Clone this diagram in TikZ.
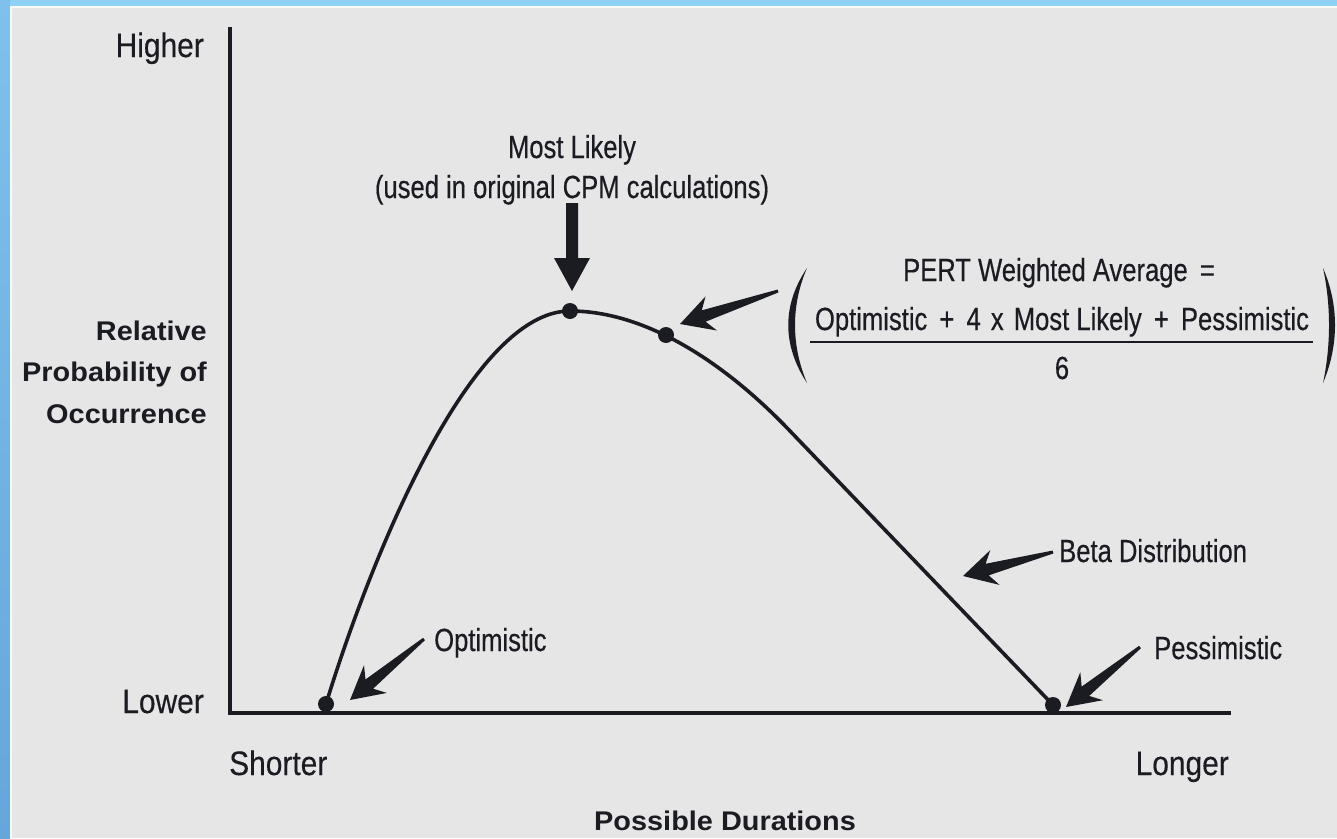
\documentclass[tikz,border=0pt]{standalone}
\usepackage{fontspec}
\setmainfont{Liberation Sans}
\newfontfamily\labelfont[FakeStretch=0.88,FakeBold=0.3]{Liberation Sans}
\newfontfamily\notefont[FakeStretch=0.8,FakeBold=0.4]{Liberation Sans}
\newfontfamily\titlefont[FakeStretch=1.07]{Liberation Sans}
\usetikzlibrary{calc}

\definecolor{panel}{HTML}{E6E6E6}
\definecolor{ink}{HTML}{1B1B22}
\definecolor{skytop}{HTML}{8FD0F5}
\definecolor{skyleft}{HTML}{7FC0EC}
\definecolor{skyleftdark}{HTML}{66A7DB}

% Broad pointer: thin tail widening into a shaft, swept head ending at the tip.
% #1 tail coordinate, #2 tip coordinate, #3 half width of the tail, #4 depth of the notch
\newcommand{\fatarrow}[4]{%
  \coordinate (#1-hb) at ($(#2)!33pt!(#1)$);
  \coordinate (#1-hn) at ($(#2)!#4!(#1)$);
  \fill[ink] ($(#1)!#3!90:(#2)$) -- ($(#1-hn)!6pt!90:(#2)$)
    -- ($(#1-hb)!18pt!90:(#2)$) -- (#2)
    -- ($(#1-hb)!18pt!-90:(#2)$) -- ($(#1-hn)!6pt!-90:(#2)$)
    -- ($(#1)!#3!-90:(#2)$) -- cycle;
}
\newcommand{\gap}{\hspace{5pt}}

\tikzset{
  axisline/.style={line width=4pt, draw=ink},
  curveline/.style={line width=3.6pt, draw=ink},
  dot/.style={circle, fill=ink, inner sep=0pt, minimum size=16pt},
  labeltext/.style={font=\labelfont\fontsize{34}{40}\selectfont, text=ink, inner sep=0pt},
  titletext/.style={font=\titlefont\bfseries\fontsize{27}{41}\selectfont, text=ink, inner sep=0pt},
  notetext/.style={font=\notefont\fontsize{32}{40}\selectfont, text=ink, inner sep=0pt},
}

\begin{document}
\begin{tikzpicture}[x=1pt, y=-1pt]
  \useasboundingbox (0,0) rectangle (1337,838);

  % frame: blue edges and grey panel
  \fill[skytop] (0,0) rectangle (1337,6);
  \shade[top color=skyleft, bottom color=skyleftdark] (0,0) rectangle (10,838);
  \fill[white!85!panel] (10,6) rectangle (1337,838);
  \fill[panel] (12,8) rectangle (1337,838);

  % axes
  \coordinate (ytop) at (230,27);
  \coordinate (corner) at (230,713);
  \coordinate (xend) at (1231,713);
  \draw[axisline] (ytop) -- (corner) -- (xend);

  % points on the distribution
  \node[dot] (opt) at (326,704) {};
  \node[dot] (mode) at (570,311) {};
  \node[dot] (avg) at (666,335) {};
  \node[dot] (pes) at (1053,705) {};

  % beta distribution curve
  \draw[curveline] (opt.center) .. controls (370,560) and (470,311) .. (mode.center)
    .. controls (650,311) and (730,368) .. (790,431) -- (pes.center);

  % axis labels
  \node[labeltext, anchor=base east] (higher) at (204,57) {Higher};
  \node[labeltext, anchor=base east] (lower) at (204,713) {Lower};
  \node[labeltext, anchor=base west] (shorter) at (229,775) {Shorter};
  \node[labeltext, anchor=base east] (longer) at (1229,775) {Longer};

  \node[titletext, anchor=base east] (ylab1) at (207,340) {Relative};
  \node[titletext, anchor=base east] (ylab2) at (207,381) {Probability of};
  \node[titletext, anchor=base east] (ylab3) at (207,423) {Occurrence};
  \node[titletext, anchor=base] (xlab) at (725,830) {Possible Durations};

  % annotations
  \node[notetext, anchor=base] (mltext) at (572,158) {Most Likely};
  \node[notetext, anchor=base] (mlnote) at (572,198) {(used in original CPM calculations)};
  \node[notetext, anchor=base west] (opttext) at (434,651) {Optimistic};
  \node[notetext, anchor=base west] (betatext) at (1059,562) {Beta Distribution};
  \node[notetext, anchor=base west] (pestext) at (1154,659) {Pessimistic};

  % PERT formula
  \node[notetext, anchor=base] (perttitle) at (1059,281) {PERT Weighted Average\ \gap=};
  \node[notetext, anchor=base] (pertnum) at (1062,330)
    {Optimistic\gap\ +\ \gap 4\ \hspace{3pt}x\ \hspace{3pt}Most Likely\gap\ +\ \gap Pessimistic};
  \node[notetext, anchor=base] (pertden) at (1062,379) {6};
  \coordinate (barL) at (810,342);
  \coordinate (barR) at (1313,342);
  \draw[line width=2pt, draw=ink] (barL) -- (barR);
  % large parentheses round the formula
  \fill[ink] (807,268) .. controls (782,305) and (782,345) .. (807,383)
    .. controls (791,345) and (791,305) .. (807,268) -- cycle;
  \fill[ink] (1323,268) .. controls (1339,305) and (1339,345) .. (1323,383)
    .. controls (1331,345) and (1331,305) .. (1323,268) -- cycle;

  % pointers
  \coordinate (mlT) at (572,203);
  \coordinate (mlP) at (572,291);
  \fatarrow{mlT}{mlP}{6pt}{33pt}
  \coordinate (avgT) at (778,291);
  \coordinate (avgP) at (680,324);
  \fatarrow{avgT}{avgP}{1.5pt}{25pt}
  \coordinate (betaT) at (1053,552);
  \coordinate (betaP) at (963,576);
  \fatarrow{betaT}{betaP}{1.5pt}{25pt}
  \coordinate (pesT) at (1140,647);
  \coordinate (pesP) at (1066,707);
  \fatarrow{pesT}{pesP}{1.5pt}{25pt}
  \coordinate (optT) at (424,639);
  \coordinate (optP) at (350,700);
  \fatarrow{optT}{optP}{1.5pt}{25pt}
\end{tikzpicture}
\end{document}
